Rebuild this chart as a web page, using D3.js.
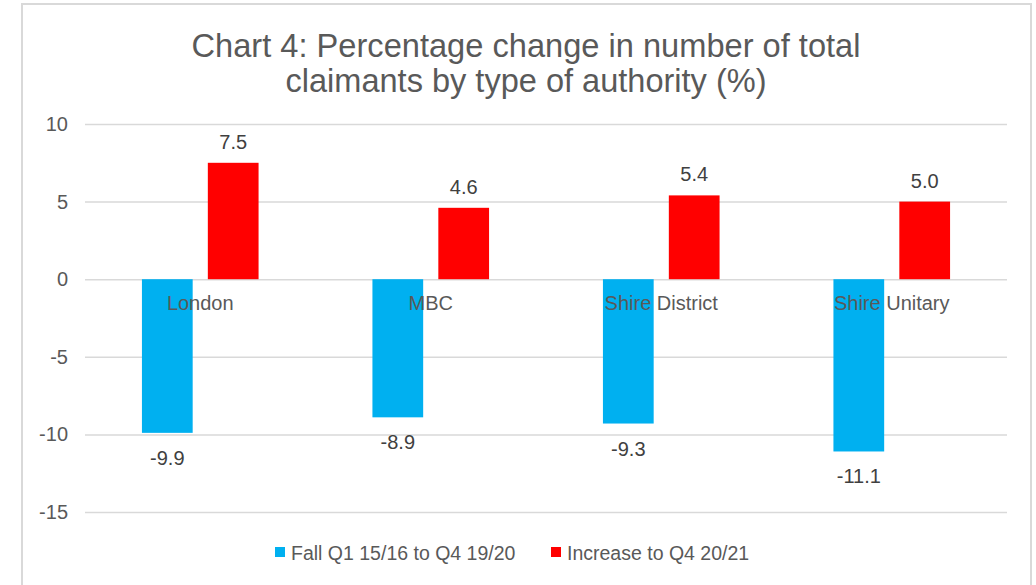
<!DOCTYPE html>
<html>
<head>
<meta charset="utf-8">
<script src="https://cdn.jsdelivr.net/npm/d3@7"></script>
<style>
  body { margin: 0; background: #fff; }
  text { font-family: "Liberation Sans", Arial, sans-serif; }
</style>
</head>
<body>
<svg class="chart"></svg>
<script>
var width = 1036,
    height = 585,
    margin = { top: 124, right: 29, bottom: 73, left: 85 }

var categories = ["London", "MBC", "Shire District", "Shire Unitary"]
var seriesNames = ["Fall Q1 15/16 to Q4 19/20", "Increase to Q4 20/21"]
var fallValues = [-9.9, -8.9, -9.3, -11.1]
var increaseValues = [7.5, 4.6, 5.4, 5.0]
var yTicks = [-15, -10, -5, 0, 5, 10]
var colors = ["#00B0F0", "#FF0000"]

var titleLines = ["Chart 4: Percentage change in number of total", "claimants by type of authority (%)"]
var titleWidths = [669, 481]

var svg = d3.select(".chart")
    .attr("width", width)
    .attr("height", height)

// outer frame
svg.append("rect")
    .attr("x", 22)
    .attr("y", 4)
    .attr("width", 1009)
    .attr("height", 600)
    .attr("fill", "#fff")
    .attr("stroke", "#d9d9d9")
    .attr("stroke-width", 2)

svg.append("g")
    .selectAll("text")
    .data(titleLines)
    .join("text")
    .attr("text-anchor", "middle")
    .attr("fill", "#595959")
    .style("font-size", "33px")
    .attr("x", 526)
    .attr("y", (d, i) => 57 + i * 35)
    .attr("textLength", (d, i) => titleWidths[i])
    .attr("lengthAdjust", "spacingAndGlyphs")
    .text(d => d)

var yScale = d3.scaleLinear()
    .domain([-15, 10])
    .range([height - margin.bottom, margin.top])

var x0 = d3.scaleBand()
    .domain(categories)
    .range([margin.left, width - margin.right])

var x1 = d3.scaleBand()
    .domain(seriesNames)
    .range([x0.bandwidth() * 0.247, x0.bandwidth() * 0.753])
    .paddingInner(0.23)

var data = categories.map((c, i) => ({
    name: c,
    values: [fallValues[i], increaseValues[i]]
}))

var fmt = v => d3.format(".1f")(v).replace("\u2212", "-")

// gridlines and tick labels
var yAxis = d3.axisLeft(yScale)
    .tickValues(yTicks)
    .tickFormat(d => String(d))
    .tickSize(-(width - margin.right - margin.left))
    .tickPadding(17)

svg.append("g")
    .attr("class", "y axis")
    .attr("transform", `translate(${margin.left},0)`)
    .call(yAxis)
    .call(g => g.select(".domain").remove())
    .call(g => g.selectAll("line").attr("stroke", "#d9d9d9").attr("stroke-width", 1.5))
    .call(g => g.selectAll("text")
        .attr("fill", "#595959")
        .style("font-size", "20px"))

var groups = svg.append("g")
    .selectAll("g")
    .data(data)
    .join("g")
    .attr("transform", d => `translate(${x0(d.name)},0)`)

groups.selectAll("rect")
    .data(d => d.values.map((v, j) => ({ key: seriesNames[j], value: v, j: j })))
    .join("rect")
    .attr("x", d => x1(d.key))
    .attr("width", x1.bandwidth())
    .attr("y", d => yScale(Math.max(0, d.value)))
    .attr("height", d => Math.abs(yScale(d.value) - yScale(0)))
    .attr("fill", d => colors[d.j])

groups.selectAll(".label")
    .data(d => d.values.map((v, j) => ({ key: seriesNames[j], value: v, j: j })))
    .join("text")
    .attr("class", "label")
    .attr("x", d => x1(d.key) + x1.bandwidth() / 2)
    .attr("y", d => d.value >= 0 ? yScale(d.value) - 14 : yScale(d.value) + 32)
    .attr("text-anchor", "middle")
    .attr("fill", "#404040")
    .style("font-size", "20px")
    .text(d => fmt(d.value))

// category labels sit just below zero line
svg.append("g")
    .selectAll("text")
    .data(categories)
    .join("text")
    .attr("x", d => x0(d) + x0.bandwidth() / 2)
    .attr("y", yScale(0) + 31)
    .attr("text-anchor", "middle")
    .attr("fill", "#595959")
    .style("font-size", "20px")
    .text(d => d)

// legend
var legend = svg.append("g")
    .attr("transform", "translate(275,560)")

var items = legend.selectAll("g")
    .data(seriesNames)
    .join("g")
    .attr("transform", (d, i) => `translate(${i * 276},0)`)

items.append("rect")
    .attr("x", 0)
    .attr("y", -13)
    .attr("width", 10)
    .attr("height", 10)
    .attr("fill", (d, i) => colors[i])

items.append("text")
    .attr("x", 16)
    .attr("y", 0)
    .attr("fill", "#595959")
    .style("font-size", "19.5px")
    .text(d => d)
</script>
</body>
</html>
